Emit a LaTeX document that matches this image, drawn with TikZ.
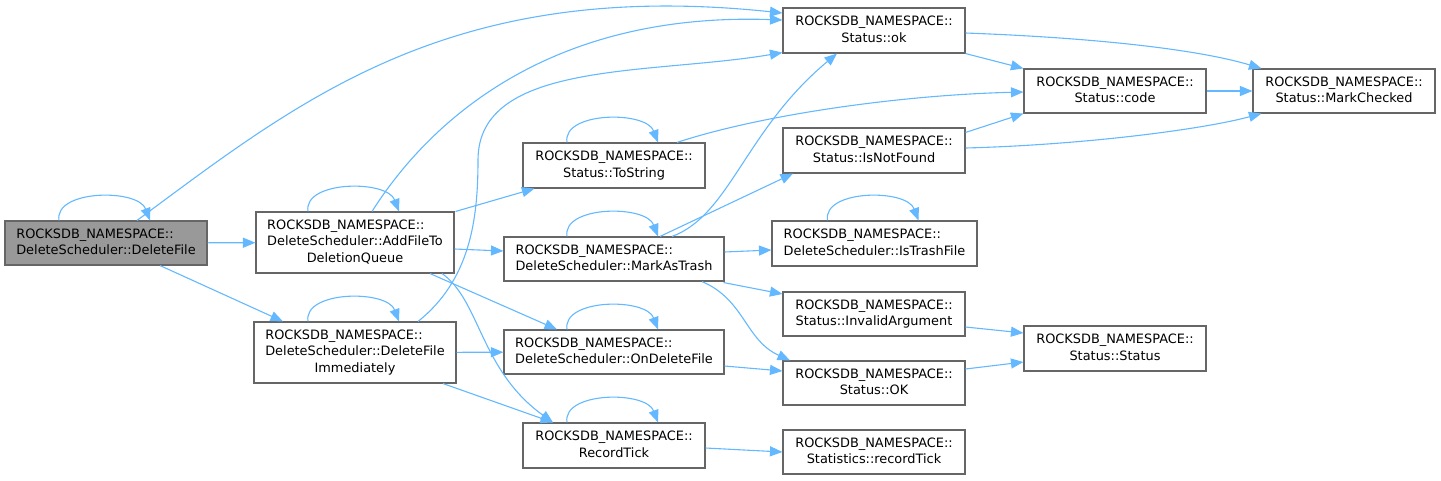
\documentclass[tikz,border=0pt]{standalone}
\usepackage{fontspec}
\setmainfont{DejaVu Sans}
\usetikzlibrary{arrows.meta,calc}
\definecolor{edgeblue}{HTML}{63B8FF}
\definecolor{boxgray}{HTML}{666666}
\definecolor{hlfill}{HTML}{999999}
\newcommand{\twoline}[2]{\begin{tabular}{@{}l@{}}#1\\\multicolumn{1}{@{}c@{}}{#2}\end{tabular}}
\newcommand{\threeline}[3]{\begin{tabular}{@{}l@{}}#1\\#2\\\multicolumn{1}{@{}c@{}}{#3}\end{tabular}}
\newcommand{\myloop}[1]{\draw[edge] ($(#1.north)+(-47,0)$) .. controls +(-5,-31) and +(-12,-32) .. ($(#1.north)+(44,0)$);}
\begin{document}
\begin{tikzpicture}[x=1pt,y=-1pt,
 box/.style={draw=boxgray, fill=white, line width=1.1pt, rectangle, inner sep=0pt, font=\fontsize{12.9}{16.6}\selectfont},
 edge/.style={draw=edgeblue, line width=1.1pt, -{Triangle[length=12.5pt,width=10pt]}},
]
\useasboundingbox (0,0) rectangle (1441,480);
\def\NS{ROCKSDB\_NAMESPACE::}
% nodes
\node[box, fill=hlfill, minimum width=202pt, minimum height=44pt] (df) at (106,243) {\twoline{\NS}{DeleteScheduler::DeleteFile}};
\node[box, minimum width=198pt, minimum height=61pt] (af) at (355,242.5) {\threeline{\NS}{DeleteScheduler::AddFileTo}{DeletionQueue}};
\node[box, minimum width=202pt, minimum height=61pt] (di) at (355,352.5) {\threeline{\NS}{DeleteScheduler::DeleteFile}{Immediately}};
\node[box, minimum width=182pt, minimum height=45pt] (ts) at (614,165.5) {\twoline{\NS}{Status::ToString}};
\node[box, minimum width=220pt, minimum height=44pt] (mt) at (614,259) {\twoline{\NS}{DeleteScheduler::MarkAsTrash}};
\node[box, minimum width=220pt, minimum height=44pt] (od) at (614,352) {\twoline{\NS}{DeleteScheduler::OnDeleteFile}};
\node[box, minimum width=182pt, minimum height=45pt] (rt) at (614,445.5) {\twoline{\NS}{RecordTick}};
\node[box, minimum width=182pt, minimum height=45pt] (ok) at (874,30.5) {\twoline{\NS}{Status::ok}};
\node[box, minimum width=182pt, minimum height=45pt] (nf) at (874,150.5) {\twoline{\NS}{Status::IsNotFound}};
\node[box, minimum width=205pt, minimum height=45pt] (tf) at (874.5,243.5) {\twoline{\NS}{DeleteScheduler::IsTrashFile}};
\node[box, minimum width=182pt, minimum height=44pt] (ia) at (874,314) {\twoline{\NS}{Status::InvalidArgument}};
\node[box, minimum width=182pt, minimum height=44pt] (sOK) at (874,383) {\twoline{\NS}{Status::OK}};
\node[box, minimum width=182pt, minimum height=44pt] (rT) at (874,452) {\twoline{\NS}{Statistics::recordTick}};
\node[box, minimum width=182pt, minimum height=44pt] (code) at (1115,91) {\twoline{\NS}{Status::code}};
\node[box, minimum width=182pt, minimum height=45pt] (st) at (1115,348.5) {\twoline{\NS}{Status::Status}};
\node[box, minimum width=182pt, minimum height=44pt] (mc) at (1344,91) {\twoline{\NS}{Status::MarkChecked}};
% self loops
\myloop{df}
\myloop{af}
\myloop{di}
\myloop{ts}
\myloop{mt}
\myloop{od}
\myloop{rt}
\myloop{tf}
% edges from DeleteFile
\draw[edge] ($(df.north)+(31,0)$) .. controls (300,100) and (450,-22) .. ($(ok.west)+(0,-17.5)$);
\draw[edge] (df) -- (af);
\draw[edge] ($(df.south)+(54,0)$) -- ($(di.north)+(-72,0)$);
% edges from AddFileToDeletionQueue
\draw[edge] ($(af.north)+(17,0)$) .. controls (430,120) and (550,12) .. ($(ok.west)+(0,-10.5)$);
\draw[edge] ($(af.north east)+(1,0)$) -- ($(ts.south west)+(12,0)$);
\draw[edge] ($(af.east)+(0,6.5)$) -- ($(mt.west)+(0,-8)$);
\draw[edge] ($(af.south)+(75,0)$) -- ($(od.north)+(-57,0)$);
\draw[edge] ($(af.south)+(87,0)$) .. controls (480,300) and (480,370) .. ($(rt.north)+(-61,0)$);
% edges from DeleteFileImmediately
\draw[edge] ($(di.north)+(63,0)$) .. controls (470,280) and (478,220) .. (478,160) .. controls (478,60) and (650,75) .. ($(ok.south west)+(0,-1)$);
\draw[edge] (di) -- (od);
\draw[edge] ($(di.south)+(88,0)$) -- ($(rt.north)+(-61,0)$);
% ToString
\draw[edge] ($(ts.north)+(63,0)$) .. controls (760,115) and (900,95) .. ($(code.west)+(0,1)$);
% MarkAsTrash
\draw[edge] ($(mt.north)+(58,0)$) .. controls (730,215) and (745,130) .. ($(ok.south)+(-37,0)$);
\draw[edge] ($(mt.north)+(46,0)$) -- ($(nf.south)+(-81,0)$);
\draw[edge] ($(mt.east)+(0,-7)$) -- ($(tf.west)+(0,6.5)$);
\draw[edge] ($(mt.south east)+(-1,1)$) -- ($(ia.west)+(0,-20)$);
\draw[edge] ($(mt.south)+(88,0)$) .. controls (745,300) and (745,340) .. ($(sOK.north)+(-84,0)$);
% Status::ok, IsNotFound, code
\draw[edge] (ok.south east) -- (code.north west);
\draw[edge] ($(ok.east)+(0,2.5)$) .. controls (1100,38) and (1200,50) .. ($(mc.north west)+(9,0)$);
\draw[edge] ($(nf.north east)+(0,5)$) -- (code.south west);
\draw[edge] ($(nf.east)+(0,-2.5)$) .. controls (1080,145) and (1200,130) .. ($(mc.south west)+(9,0)$);
\draw[edge] (code) -- (mc);
% lower right
\draw[edge] ($(ia.east)+(0,13)$) -- ($(st.west)+(0,-15.5)$);
\draw[edge] ($(sOK.east)+(0,-14)$) -- ($(st.west)+(0,13.5)$);
\draw[edge] ($(od.east)+(0,14)$) -- ($(sOK.west)+(0,-12)$);
\draw[edge] ($(rt.east)+(0,2.5)$) -- (rT.west);
\end{tikzpicture}
\end{document}
